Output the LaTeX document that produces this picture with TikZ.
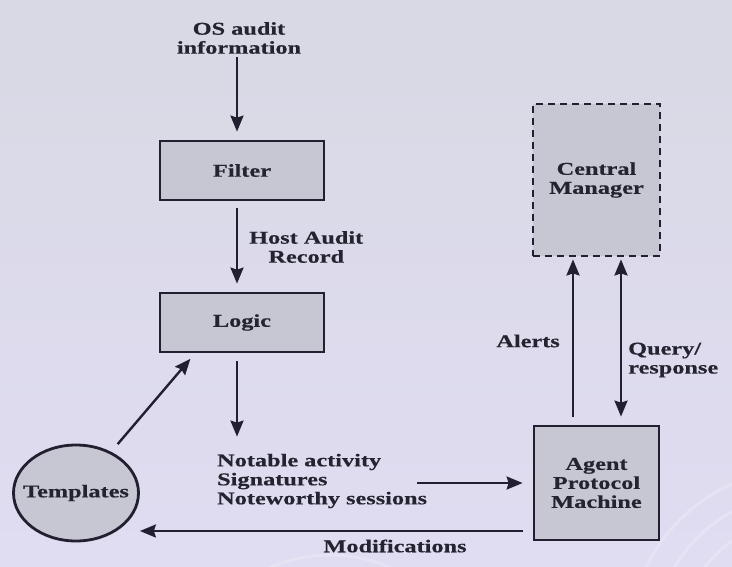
\documentclass[tikz,border=0pt]{standalone}
\usepackage{fontspec}
\setmainfont{Liberation Serif}[FakeStretch=1.35,BoldFeatures={FakeBold=0.4}]
\usetikzlibrary{arrows.meta,shapes.geometric}

\begin{document}
\begin{tikzpicture}[x=1pt,y=-1pt,
      >={Stealth[length=16pt,width=13pt,inset=2pt]},
      every node/.style={font=\fontsize{18}{19}\selectfont\bfseries,text=txt},
      box/.style={draw=ink,line width=2.8pt,fill=boxfill,inner sep=0pt,align=center},
      lbl/.style={inner sep=0pt,align=center},
      arr/.style={draw=ink,line width=2.4pt,->}]
      \definecolor{ink}{RGB}{34,32,48}
      \definecolor{txt}{RGB}{36,36,48}
      \definecolor{boxfill}{RGB}{199,199,212}
      \definecolor{bgtop}{RGB}{216,217,228}
      \definecolor{bgbot}{RGB}{224,220,242}
      \fill[top color=bgtop,bottom color=bgbot] (0,0) rectangle (732,566);
      \begin{scope}
          \clip (0,0) rectangle (732,566);
          \foreach \r in {120,145,170}{
          \draw[white,opacity=.22,line width=3pt] (800,640) circle (\r);
          }
          \draw[white,opacity=.22,line width=3pt] (330,705) circle (150);
      \end{scope}
      \coordinate (col) at (237,0);
      \coordinate (alertx) at (573,0);
      \coordinate (queryx) at (621,0);
      \coordinate (modline) at (0,531);
      \node[lbl] (os) at (239,38) {OS audit\\information};
      \node[box,minimum width=164pt,minimum height=59pt] (filter) at (242,170.5) {Filter};
      \node[lbl,anchor=west] (hostrec) at (249,247) {Host Audit\\Record};
      \node[box,minimum width=164pt,minimum height=59pt] (logic) at (242,322.5) {Logic};
      \node[lbl,align=left,anchor=west] (notable) at (217,481) {Notable activity\\Signatures\\Noteworthy sessions};
      \node[box,ellipse,inner xsep=-12pt,minimum width=125pt,minimum height=96pt] (tmpl) at (76,493) {Templates};
      \node[box,minimum width=125pt,minimum height=114pt] (agent) at (596.5,483) {Agent\\Protocol\\Machine};
      \node[box,dashed,dash pattern=on 7pt off 5pt,minimum width=127pt,minimum height=152pt] (cm) at (596.5,180) {Central\\Manager};
      \node[lbl,anchor=east] (alerts) at (560,341) {Alerts};
      \node[lbl,align=left,anchor=west] (query) at (628,360) {Query/\\response};
      \node[lbl] (modlbl) at (395,546) {Modifications};
      \draw[arr,shorten <=3pt,shorten >=8pt] (os.south -| col) -- (filter.north -| col);
      \draw[arr,shorten <=7pt,shorten >=8pt] (filter.south -| col) -- (logic.north -| col);
      \draw[arr,shorten <=8pt,shorten >=17pt] (logic.south -| col) -- (notable.north -| col);
      \draw[arr,shorten <=10pt,shorten >=7pt] (tmpl) -- ([xshift=-47pt]logic.south);
      \draw[arr,shorten >=10pt] ([xshift=-10pt]notable.east |- agent.west) -- (agent.west);
      \draw[arr,shorten <=10pt] (agent.west |- modline) -- (tmpl.east |- modline);
      \draw[arr,shorten <=8pt,shorten >=2pt] (agent.north -| alertx) -- (cm.south -| alertx);
      \draw[arr,<->,shorten <=8pt,shorten >=2pt] (agent.north -| queryx) -- (cm.south -| queryx);
\end{tikzpicture}
\end{document}
